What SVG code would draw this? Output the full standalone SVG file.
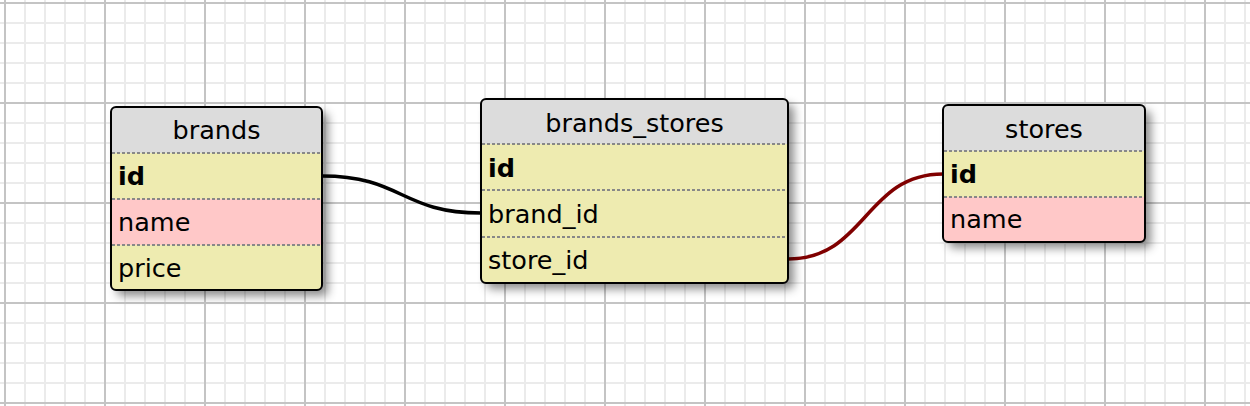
<svg xmlns="http://www.w3.org/2000/svg" width="1250" height="406" viewBox="0 0 1250 406">
<style>
.hdr{fill:#dcdcdc}
.yel{fill:#eeebb0}
.pnk{fill:#ffc8c8}
.sep{stroke:#888;stroke-width:2;stroke-dasharray:3 2;fill:none}
.frame{fill:none;stroke:#000;stroke-width:2}
.title{font-family:"DejaVu Sans",Verdana,sans-serif;font-size:25.5px;fill:#000;text-anchor:middle}
.fld{font-family:"DejaVu Sans",Verdana,sans-serif;font-size:25.5px;fill:#000}
.pk{font-weight:bold}
.conn{fill:none;stroke-width:3.5}
</style>
<defs>
<pattern id="minor" patternUnits="userSpaceOnUse" x="0" y="0" width="20" height="20">
<path d="M5 0V20M0 3H20" stroke="#ebebeb" stroke-width="2"/>
</pattern>
<pattern id="major" patternUnits="userSpaceOnUse" x="0" y="0" width="100" height="100">
<path d="M5 0V100M0 3H100" stroke="#c4c4c4" stroke-width="2"/>
</pattern>
<filter id="sh" x="-20%" y="-20%" width="150%" height="150%">
<feDropShadow dx="6" dy="6" stdDeviation="5" flood-color="#000" flood-opacity="0.45"/>
</filter>
<clipPath id="cb"><rect x="111" y="107" width="211" height="183" rx="5"/></clipPath>
<clipPath id="cbs"><rect x="481" y="99" width="307" height="184" rx="5"/></clipPath>
<clipPath id="cs"><rect x="943" y="105" width="202" height="137" rx="5"/></clipPath>
</defs>
<rect width="1250" height="406" fill="#fff"/>
<rect width="1250" height="406" fill="url(#minor)"/>
<rect width="1250" height="406" fill="url(#major)"/>

<g id="connectors">
<path class="conn" stroke="#000" d="M322 176C402 176 401 213 481 213"/>
<path class="conn" stroke="#800000" d="M788 259C866 259 865 174 943 174"/>
</g>

<g id="brands">
<rect x="111" y="107" width="211" height="183" rx="5" fill="#fff" filter="url(#sh)"/>
<g clip-path="url(#cb)">
<rect class="hdr" x="111" y="107" width="211" height="46"/>
<rect class="yel" x="111" y="153" width="211" height="46"/>
<rect class="pnk" x="111" y="199" width="211" height="46"/>
<rect class="yel" x="111" y="245" width="211" height="45"/>
</g>
<path class="sep" d="M112 153H321M112 199H321M112 245H321"/>
<rect class="frame" x="111" y="107" width="211" height="183" rx="5"/>
<text class="title" x="216.5" y="139">brands</text>
<text class="fld pk" x="118" y="185">id</text>
<text class="fld" x="118" y="231">name</text>
<text class="fld" x="118" y="277">price</text>
</g>

<g id="brands_stores">
<rect x="481" y="99" width="307" height="184" rx="5" fill="#fff" filter="url(#sh)"/>
<g clip-path="url(#cbs)">
<rect class="hdr" x="481" y="99" width="307" height="45"/>
<rect class="yel" x="481" y="144" width="307" height="139"/>
</g>
<path class="sep" d="M482 144H787M482 190H787M482 237H787"/>
<rect class="frame" x="481" y="99" width="307" height="184" rx="5"/>
<text class="title" x="634.5" y="132">brands_stores</text>
<text class="fld pk" x="488" y="177">id</text>
<text class="fld" x="488" y="223">brand_id</text>
<text class="fld" x="488" y="269">store_id</text>
</g>

<g id="stores">
<rect x="943" y="105" width="202" height="137" rx="5" fill="#fff" filter="url(#sh)"/>
<g clip-path="url(#cs)">
<rect class="hdr" x="943" y="105" width="202" height="46"/>
<rect class="yel" x="943" y="151" width="202" height="46"/>
<rect class="pnk" x="943" y="197" width="202" height="45"/>
</g>
<path class="sep" d="M944 151H1144M944 197H1144"/>
<rect class="frame" x="943" y="105" width="202" height="137" rx="5"/>
<text class="title" x="1044" y="138">stores</text>
<text class="fld pk" x="950" y="183">id</text>
<text class="fld" x="950" y="228">name</text>
</g>
</svg>
